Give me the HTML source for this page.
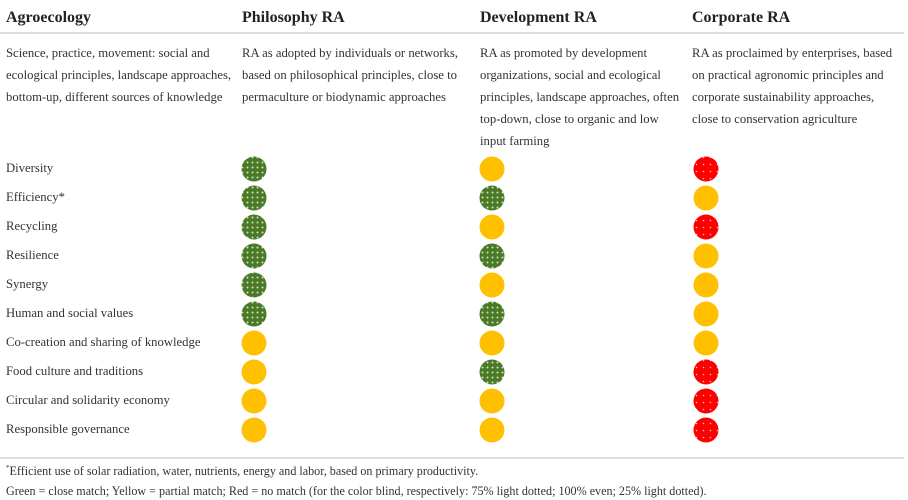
<!DOCTYPE html>
<html><head><meta charset="utf-8"><style>
body{margin:0;width:908px;height:500px;background:#fff;position:relative;overflow:hidden;font-family:"Liberation Serif",serif;color:#333}
.a{position:absolute;white-space:nowrap}
.h{font-weight:bold;font-size:16px;top:9px;color:#222}
.d{font-size:12.7px;line-height:22px;top:42px}
.r{font-size:12.7px;left:6px}
.f{font-size:12.1px;left:6px}
.line{position:absolute;left:0;width:904px;height:2px;background:#ddd}
</style></head><body>
<svg width="0" height="0" style="position:absolute"><defs>
<pattern id="pg" width="5" height="5" patternUnits="userSpaceOnUse"><rect width="5" height="5" fill="#4a7a28"/><circle cx="2.5" cy="2.5" r="1" fill="#cfe3b8"/></pattern>
<pattern id="pr" width="7" height="7" patternUnits="userSpaceOnUse"><rect width="7" height="7" fill="#f00"/><circle cx="3.5" cy="3.5" r="0.8" fill="#fbb"/></pattern>
</defs></svg>
<div class="a h" style="left:6px">Agroecology</div>
<div class="a h" style="left:242px">Philosophy RA</div>
<div class="a h" style="left:480px">Development RA</div>
<div class="a h" style="left:692px">Corporate RA</div>
<div class="line" style="top:32px"></div>
<div class="a d" style="left:6px">Science, practice, movement: social and<br>ecological principles, landscape approaches,<br>bottom-up, different sources of knowledge</div>
<div class="a d" style="left:242px">RA as adopted by individuals or networks,<br>based on philosophical principles, close to<br>permaculture or biodynamic approaches</div>
<div class="a d" style="left:480px">RA as promoted by development<br>organizations, social and ecological<br>principles, landscape approaches, often<br>top-down, close to organic and low<br>input farming</div>
<div class="a d" style="left:692px">RA as proclaimed by enterprises, based<br>on practical agronomic principles and<br>corporate sustainability approaches,<br>close to conservation agriculture</div>
<svg id="grid" class="a" style="left:0;top:0" width="908" height="500"></svg>
<div class="line" style="top:457px"></div>
<div class="a f" style="top:464px"><sup style="font-size:7px">*</sup>Efficient use of solar radiation, water, nutrients, energy and labor, based on primary productivity.</div>
<div class="a f" style="top:484px">Green = close match; Yellow = partial match; Red = no match (for the color blind, respectively: 75% light dotted; 100% even; 25% light dotted).</div>
<script>
const principles=["Diversity","Efficiency*","Recycling","Resilience","Synergy","Human and social values","Co-creation and sharing of knowledge","Food culture and traditions","Circular and solidarity economy","Responsible governance"];
const philosophy=["G","G","G","G","G","G","Y","Y","Y","Y"];
const development=["Y","G","Y","G","Y","G","Y","G","Y","Y"];
const corporate=["R","Y","R","Y","Y","Y","Y","R","R","R"];
const series=[philosophy,development,corporate];
const colX=[254,492,706];
const rowY=i=>169+i*29;
const fills={G:"url(#pg)",Y:"#ffc000",R:"url(#pr)"};
const svg=document.getElementById('grid');
const NS="http://www.w3.org/2000/svg";
principles.forEach((p,i)=>{
  const t=document.createElement('div');
  t.className='a r';t.style.top=(rowY(i)-8)+'px';t.textContent=p;
  
  
  document.body.appendChild(t);
  series.forEach((s,j)=>{
    const c=document.createElementNS(NS,'circle');
    c.setAttribute('cx',colX[j]);c.setAttribute('cy',rowY(i));c.setAttribute('r',12.5);
    c.setAttribute('fill',fills[s[i]]);
    
    
    svg.appendChild(c);
  });
});
</script>
</body></html>
